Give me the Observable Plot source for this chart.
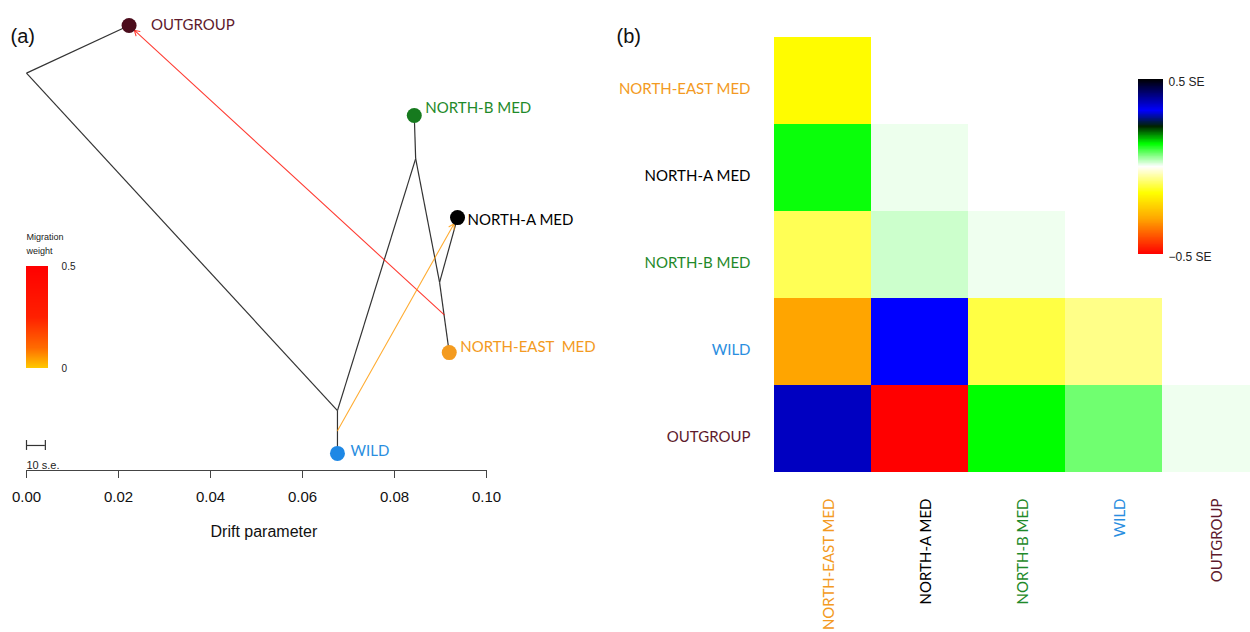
<!DOCTYPE html>
<html><head><meta charset="utf-8">
<script src="https://cdn.jsdelivr.net/npm/d3@7"></script>
<script src="https://cdn.jsdelivr.net/npm/@observablehq/plot@0.6"></script>
<style>
html,body{margin:0;padding:0;background:#fff;overflow:hidden;}
#wrap{position:relative;width:1250px;height:632px;overflow:hidden;background:#fff;}
#wrap svg{position:absolute;max-width:none;}
</style></head><body><div id="wrap"></div>
<script>
// ---------------- Panel (a): TreeMix tree ----------------
const nodeNames = ["root", "OUTGROUP", "n1", "WILD", "n2", "NORTH-B MED", "n3", "NORTH-A MED", "NORTH-EAST MED"];
const nodeDrift = [0.0000, 0.0223, 0.0676, 0.0676, 0.0846, 0.0843, 0.0898, 0.0937, 0.0919];
const nodeY     = [0.883, 0.989, 0.133, 0.038, 0.693, 0.789, 0.418, 0.562, 0.262];
const edgeParent = ["root", "root", "n1", "n1", "n2", "n2", "n3", "n3"];
const edgeChild  = ["OUTGROUP", "n1", "WILD", "n2", "NORTH-B MED", "n3", "NORTH-A MED", "NORTH-EAST MED"];
const tipNames  = ["OUTGROUP", "NORTH-B MED", "NORTH-A MED", "NORTH-EAST MED", "WILD"];
const tipLabels = ["OUTGROUP", "NORTH-B MED", "NORTH-A MED", "NORTH-EAST  MED", "WILD"];
const migFromBranch = ["NORTH-EAST MED", "WILD"];
const migFromFrac = [0.46, 0.47];
const migTo = ["OUTGROUP", "NORTH-A MED"];
const migWeight = [0.40, 0.05];
const driftTicks = [0, 0.02, 0.04, 0.06, 0.08, 0.10];
const seBarLength = 0.0041;
const weightTicks = [0, 0.5];
const weightStops  = [0, 0.1, 0.25, 0.5];
const weightColors = ["#ffc800", "#ff6a00", "#ff2000", "#ff0000"];

// ---------------- Panel (b): residual matrix ----------------
const popNames = ["NORTH-EAST MED", "NORTH-A MED", "NORTH-B MED", "WILD", "OUTGROUP"];
const residNorthEast = [-0.155];
const residNorthA    = [0.125, 0.009];
const residNorthB    = [-0.10, 0.026, 0.008];
const residWild      = [-0.30, 0.32, -0.11, -0.07];
const residOutgroup  = [0.364, -0.50, 0.13, 0.073, 0.008];
const residStops  = [-0.5, -0.3, -0.15, 0, 0.13, 0.23, 0.32, 0.5];
const residColors = ["#ff0000", "#ffa500", "#ffff00", "#ffffff", "#00ff00", "#002200", "#0000ff", "#000000"];
const seTicks = [0.5, -0.5];
const seTickLabels = ["0.5 SE", "\u22120.5 SE"];

// ---------------- styles (not data) ----------------
const tipDot   = {"OUTGROUP":"#4b0c1c","NORTH-B MED":"#167a1e","NORTH-A MED":"#000000","NORTH-EAST MED":"#f49b1f","WILD":"#1e88e5"};
const tipText  = {"OUTGROUP":"#5e1a2c","NORTH-B MED":"#1f8a2a","NORTH-A MED":"#000000","NORTH-EAST MED":"#f39a22","WILD":"#2a8ee0"};
const tipOffset = {"OUTGROUP":[22,0],"NORTH-B MED":[11,-7],"NORTH-A MED":[10,3],"NORTH-EAST MED":[11,-5],"WILD":[13,-2]};
const popText = {"NORTH-EAST MED":"#f39a22","NORTH-A MED":"#000000","NORTH-B MED":"#1f8a2a","WILD":"#2a8ee0","OUTGROUP":"#5e1a2c"};
const SANS = "Liberation Sans, Arial, Helvetica, sans-serif";
const LATO = "Lato, 'Open Sans', sans-serif";

// ---- build tree structures
const nodes = nodeNames.map((n, i) => ({name: n, x: nodeDrift[i], y: nodeY[i]}));
const byName = new Map(nodes.map(d => [d.name, d]));
const edges = edgeParent.map((p, i) => ({p: byName.get(p), c: byName.get(edgeChild[i])}));
const migs = migTo.map((t, i) => {
  const c = byName.get(migFromBranch[i]);
  const p = byName.get(edgeParent[edgeChild.indexOf(migFromBranch[i])]);
  const f = migFromFrac[i];
  const T = byName.get(t);
  return {x1: p.x + (c.x - p.x) * f, y1: p.y + (c.y - p.y) * f, x2: T.x, y2: T.y, w: migWeight[i]};
});
const tips = tipNames.map((n, i) => ({...byName.get(n), label: tipLabels[i]}));

// legend placement (layout, in tree coordinates)
const LEG = {x1: 0, x2: 0.0048, yBottom: 0.227, yTop: 0.453};
const wy = w => LEG.yBottom + (w / 0.5) * (LEG.yTop - LEG.yBottom);
const legendSamples = d3.range(0, 0.5, 0.0025);
const SEB = {y: 0.0556, cap: 0.011};

const A = Plot.plot({
  width: 620, height: 560,
  marginTop: 0, marginRight: 0, marginLeft: 0, marginBottom: 90,
  style: {fontFamily: SANS, background: "transparent", overflow: "visible"},
  x: {domain: [0, 0.1], range: [26, 486]},
  y: {domain: [0, 1], range: [470, 20], axis: null},
  color: {type: "linear", domain: weightStops, range: weightColors, interpolate: "rgb"},
  marks: [
    Plot.link(edges, {x1: d => d.p.x, y1: d => d.p.y, x2: d => d.c.x, y2: d => d.c.y, stroke: "#333", strokeWidth: 1.2}),
    Plot.arrow(migs, {x1: "x1", y1: "y1", x2: "x2", y2: "y2", stroke: "w", strokeWidth: 1.1, strokeOpacity: 0.8, headLength: 8, insetEnd: 7}),
    ...tips.map(t => Plot.dot([t], {x: "x", y: "y", r: 7.5, fill: tipDot[t.name], stroke: "none"})),
    ...tips.map(t => Plot.text([t], {x: "x", y: "y", text: "label", fill: tipText[t.name], dx: tipOffset[t.name][0], dy: tipOffset[t.name][1], textAnchor: "start", fontFamily: LATO, fontSize: 15})),
    // axis
    Plot.ruleY([0], {x1: 0, x2: 0.1, stroke: "#444", strokeWidth: 1.2}),
    Plot.axisX({ticks: driftTicks, tickFormat: d3.format(".2f"), tickSize: 8, tickPadding: 13, fontSize: 15, label: null, stroke: "#444", fill: "#111"}),
    Plot.text(["Drift parameter"], {x: 0.0516, y: -0.1356, fontSize: 16, fill: "#111"}),
    // migration weight legend
    Plot.rect(legendSamples, {x1: LEG.x1, x2: LEG.x2, y1: d => wy(d), y2: d => wy(d + 0.0025) + 0.001, fill: d => d + 0.00125, shapeRendering: "crispEdges"}),
    Plot.text(["Migration"], {x: 0, y: 0.518, textAnchor: "start", fontSize: 9, fill: "#222"}),
    Plot.text(["weight"], {x: 0, y: 0.487, textAnchor: "start", fontSize: 9, fill: "#222"}),
    Plot.text(weightTicks, {x: LEG.x2, y: d => wy(d), text: d => String(d), dx: 13, textAnchor: "start", fontSize: 10, fill: "#222"}),
    // 10 s.e. scale bar
    Plot.ruleY([SEB.y], {x1: 0, x2: seBarLength, stroke: "#333", strokeWidth: 1.2}),
    Plot.ruleX([0, seBarLength], {y1: SEB.y - SEB.cap, y2: SEB.y + SEB.cap, stroke: "#333", strokeWidth: 1.2}),
    Plot.text(["10 s.e."], {x: 0, y: 0.011, textAnchor: "start", fontSize: 11, fill: "#222"}),
    Plot.text(["(a)"], {frameAnchor: "top-left", dx: 10, dy: 28, textAnchor: "start", fontSize: 20, fill: "#111"})
  ]
});
A.style.left = "0px"; A.style.top = "0px";

// ---- build residual cells
const residRows = [residNorthEast, residNorthA, residNorthB, residWild, residOutgroup];
const cells = residRows.flatMap((vals, r) => vals.map((v, c) => ({row: popNames[r], col: popNames[c], value: v})));
const residColor = {type: "linear", domain: residStops, range: residColors, interpolate: "rgb"};

const B = Plot.plot({
  width: 650, height: 632, margin: 0,
  style: {fontFamily: LATO, background: "transparent"},
  x: {domain: popNames, range: [173, 660.5], padding: 0, axis: null},
  y: {domain: popNames, range: [37, 472], padding: 0, axis: null},
  color: residColor,
  marks: [
    Plot.cell(cells, {x: "col", y: "row", fill: "value", shapeRendering: "crispEdges"}),
    ...popNames.map(n => Plot.text([n], {y: d => d, frameAnchor: "left", dx: 150, dy: 8, textAnchor: "end", fill: popText[n], fontSize: 15})),
    ...popNames.map(n => Plot.text([n], {x: d => d, frameAnchor: "top", dy: 498, rotate: -90, textAnchor: "end", fill: popText[n], fontSize: 15})),
    Plot.text(["(b)"], {frameAnchor: "top-left", dx: 16, dy: 28, textAnchor: "start", fontSize: 20, fill: "#111", fontFamily: SANS})
  ]
});
B.style.left = "600px"; B.style.top = "0px";

// ---- colour bar
const cbSamples = d3.range(-0.5, 0.5, 0.0025);
const C = Plot.plot({
  width: 150, height: 220, margin: 0,
  style: {fontFamily: SANS, background: "transparent"},
  x: {domain: [0, 1], range: [38, 63], axis: null},
  y: {domain: [-0.5, 0.5], range: [194, 19], axis: null},
  color: residColor,
  marks: [
    Plot.rect(cbSamples, {x1: 0, x2: 1, y1: d => d, y2: d => d + 0.0045, fill: d => d + 0.00125, shapeRendering: "crispEdges"}),
    Plot.text(seTicks, {x: 1, y: d => d, text: (d, i) => seTickLabels[i], dx: 5, dy: 3, textAnchor: "start", fontSize: 12, fill: "#222"})
  ]
});
C.style.left = "1100px"; C.style.top = "60px";

const wrap = document.getElementById("wrap");
wrap.append(A, B, C);
</script></body></html>
